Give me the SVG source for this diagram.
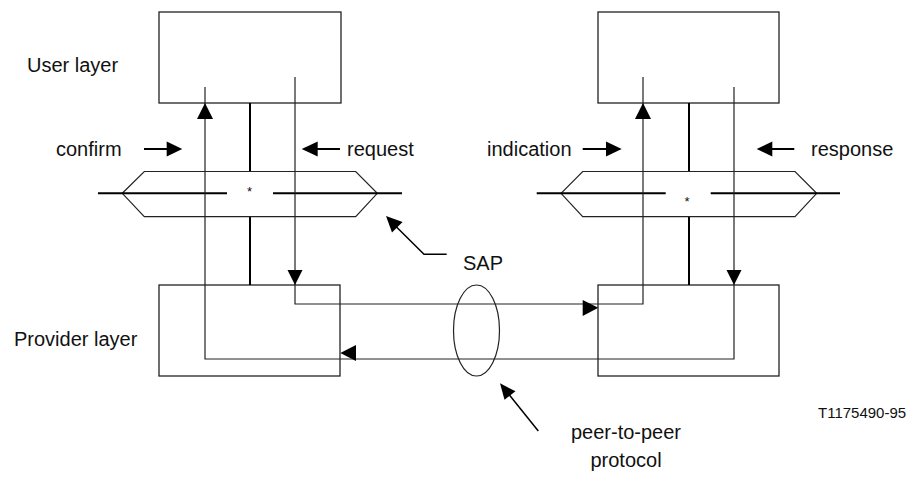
<svg xmlns="http://www.w3.org/2000/svg" width="922" height="477" viewBox="0 0 922 477">
  <style>
    .lbl { font-family: "Liberation Sans", Arial, sans-serif; font-size: 20px; fill: #111; }
    .small { font-family: "Liberation Sans", Arial, sans-serif; font-size: 15px; fill: #111; }
    .star { font-family: "Liberation Sans", Arial, sans-serif; font-size: 13px; fill: #111; text-anchor: middle; }
    .box { fill: none; stroke: #222; stroke-width: 1.3; }
    .thin { fill: none; stroke: #222; stroke-width: 1.2; }
    .thick { fill: none; stroke: #000; stroke-width: 2; }
    .head { fill: #000; stroke: none; }
  </style>

  <rect width="922" height="477" fill="#fff"/>

  <!-- layer captions -->
  <text class="lbl" x="27" y="72">User layer</text>
  <text class="lbl" x="14" y="346">Provider layer</text>

  <!-- user layer entities -->
  <g id="user-left">
    <rect class="box" x="159" y="12" width="182" height="91"/>
  </g>
  <g id="user-right">
    <rect class="box" x="598" y="12" width="181" height="91"/>
  </g>

  <!-- provider layer entities -->
  <g id="provider-left">
    <rect class="box" x="159" y="285" width="181" height="91"/>
  </g>
  <g id="provider-right">
    <rect class="box" x="598" y="285" width="181" height="91"/>
  </g>

  <!-- service access points -->
  <g id="sap-left">
    <line class="thick" x1="250" y1="103" x2="250" y2="171.5"/>
    <line class="thick" x1="250" y1="216.7" x2="250" y2="285"/>
    <polygon class="thin" points="122.3,193.3 144.3,171.5 355.7,171.5 377.3,193.3 355.7,216.7 144.3,216.7"/>
    <line class="thick" x1="98" y1="193.3" x2="227" y2="193.3"/>
    <line class="thick" x1="273" y1="193.3" x2="402" y2="193.3"/>
    <text class="star" x="249.5" y="196">*</text>
  </g>
  <g id="sap-right">
    <line class="thick" x1="689" y1="103" x2="689" y2="171.5"/>
    <line class="thick" x1="689" y1="216.7" x2="689" y2="285"/>
    <polygon class="thin" points="561,193.3 582.7,171.5 795,171.5 816.7,193.3 795,216.7 582.7,216.7"/>
    <line class="thick" x1="536.7" y1="193.3" x2="665.7" y2="193.3"/>
    <line class="thick" x1="710.7" y1="193.3" x2="840" y2="193.3"/>
    <text class="star" x="687" y="206">*</text>
  </g>

  <!-- protocol ellipse -->
  <g id="peer-protocol">
    <ellipse class="thin" cx="476.5" cy="330.5" rx="23" ry="45.5"/>
  </g>

  <!-- primitive flows -->
  <g id="connectors">
    <!-- request -> indication -->
    <path class="thin" d="M295,77 V304 H643 V77"/>
    <polygon class="head" points="295,285 287.5,270 302.5,270"/>
    <polygon class="head" points="598.3,307.7 582.7,300 582.7,316"/>
    <polygon class="head" points="643,103 635,119 651,119"/>
    <!-- response -> confirm -->
    <path class="thin" d="M734,87 V359 H205 V87"/>
    <polygon class="head" points="734,285 726.5,270 741.5,270"/>
    <polygon class="head" points="340.3,353 356,345 356,361"/>
    <polygon class="head" points="205,103 197,119 213,119"/>
  </g>

  <!-- primitive labels with pointers -->
  <g id="label-confirm">
    <text class="lbl" x="56" y="156">confirm</text>
    <line class="thick" x1="144" y1="149" x2="168" y2="149"/>
    <polygon class="head" points="182.3,149 166.7,141.5 166.7,156.5"/>
  </g>
  <g id="label-request">
    <line class="thick" x1="316" y1="149" x2="340" y2="149"/>
    <polygon class="head" points="301.7,149 317.7,141.5 317.7,156.5"/>
    <text class="lbl" x="347" y="156">request</text>
  </g>
  <g id="label-indication">
    <text class="lbl" x="487" y="156">indication</text>
    <line class="thick" x1="582.7" y1="149" x2="607" y2="149"/>
    <polygon class="head" points="621.7,149 606,141.5 606,156.5"/>
  </g>
  <g id="label-response">
    <line class="thick" x1="771" y1="149" x2="794.3" y2="149"/>
    <polygon class="head" points="756.7,149 772.3,141.5 772.3,156.5"/>
    <text class="lbl" x="811" y="156">response</text>
  </g>

  <g id="label-sap">
    <polygon class="head" points="386,216 402.6,222 392,232.6"/>
    <polyline fill="none" stroke="#000" stroke-width="1.5" points="396,226.5 424,254.3 446.7,254.3"/>
    <text class="lbl" x="463" y="270">SAP</text>
  </g>

  <g id="label-peer">
    <polygon class="head" points="500,383.3 515.5,391.2 504.5,399.8"/>
    <line stroke="#000" stroke-width="1.5" x1="509" y1="394.5" x2="538.3" y2="431"/>
    <text class="lbl" x="626" y="439" text-anchor="middle">peer-to-peer</text>
    <text class="lbl" x="626" y="467" text-anchor="middle">protocol</text>
  </g>

  <text class="small" x="818" y="418">T1175490-95</text>
</svg>
